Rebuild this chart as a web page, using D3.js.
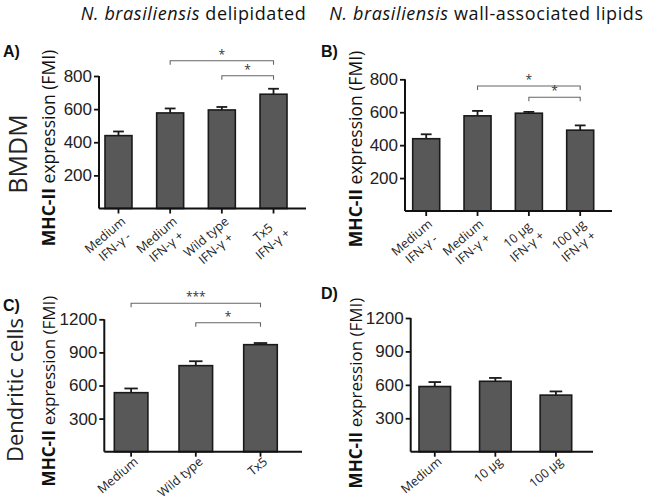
<!DOCTYPE html>
<html><head><meta charset="utf-8">
<script src="https://cdn.jsdelivr.net/npm/d3@7"></script>
<style>
body{margin:0;background:#fff;}
svg{display:block;font-family:"Open Sans",sans-serif;}
</style></head>
<body><svg id="c" width="646" height="500"></svg>
<script>
// ---- data ----
const catsA = [["Medium","IFN-γ -"],["Medium","IFN-γ +"],["Wild type","IFN-γ +"],["Tx5","IFN-γ +"]];
const valuesA = [440, 577, 595, 690];
const errA = [25, 27, 18, 33];
const catsB = [["Medium","IFN-γ -"],["Medium","IFN-γ +"],["10 μg","IFN-γ +"],["100 μg","IFN-γ +"]];
const valuesB = [439, 578, 594, 491];
const errB = [27, 30, 8, 29];
const catsC = [["Medium"],["Wild type"],["Tx5"]];
const valuesC = [535, 780, 970];
const errC = [38, 40, 15];
const catsD = [["Medium"],["10 μg"],["100 μg"]];
const valuesD = [585, 632, 508];
const errD = [40, 30, 33];
const ticksAB = [200, 400, 600, 800];
const ticksCD = [300, 600, 900, 1200];
const sigA = [[1, 3, "*"], [2, 3, "*"]];
const sigB = [[1, 3, "*"], [2, 3, "*"]];
const sigC = [[0, 2, "***"], [1, 2, "*"]];
const sigD = [];

const svg = d3.select("#c");
const ANG = -40, LFS = 12.5, LH = 15;

function panel(o){
  const g = svg.append("g");
  const y = d3.scaleLinear().domain([0, o.max]).range([o.y0, o.y1]);
  const x = d3.scaleBand().domain(o.cats.map((c,i)=>i)).range([o.ax, o.bx])
    .paddingInner(o.pi).paddingOuter(o.po);
  // bars
  g.selectAll("rect.bar").data(o.vals).enter().append("rect")
    .attr("x",(d,i)=>x(i)).attr("width",x.bandwidth())
    .attr("y",d=>y(d)).attr("height",d=>y(0)-y(d))
    .attr("fill","#585858").attr("stroke","#1a1a1a").attr("stroke-width",1.6);
  // error bars
  const eb = g.selectAll("g.eb").data(o.vals).enter().append("g");
  eb.append("line").attr("x1",(d,i)=>x(i)+x.bandwidth()/2).attr("x2",(d,i)=>x(i)+x.bandwidth()/2)
    .attr("y1",d=>y(d)).attr("y2",(d,i)=>y(d+o.err[i])).attr("stroke","#1a1a1a").attr("stroke-width",1.8);
  eb.append("line").attr("x1",(d,i)=>x(i)+x.bandwidth()*0.3).attr("x2",(d,i)=>x(i)+x.bandwidth()*0.7)
    .attr("y1",(d,i)=>y(d+o.err[i])).attr("y2",(d,i)=>y(d+o.err[i])).attr("stroke","#1a1a1a").attr("stroke-width",1.8);
  // y axis
  const ya = g.append("g").attr("transform",`translate(${o.ax},0)`)
    .call(d3.axisLeft(y).tickValues(o.ticks).tickFormat(d3.format("d")).tickSize(5).tickPadding(2).tickSizeOuter(0));
  ya.select(".domain").remove();
  g.append("line").attr("x1",o.ax).attr("x2",o.ax).attr("y1",y(0)).attr("y2",y(o.max))
    .attr("stroke","#111").attr("stroke-width",2);
  ya.selectAll(".tick line").attr("stroke","#111").attr("stroke-width",1.8);
  ya.selectAll(".tick text").attr("font-family","'Liberation Sans',Arial,sans-serif")
    .attr("font-size",17).attr("fill","#222");
  // x axis
  g.append("line").attr("x1",o.ax).attr("x2",o.axEnd).attr("y1",y(0)).attr("y2",y(0))
    .attr("stroke","#111").attr("stroke-width",2);
  const xa = g.append("g").attr("transform",`translate(0,${y(0)})`)
    .call(d3.axisBottom(x).tickSize(5).tickFormat(""));
  xa.select(".domain").remove();
  xa.selectAll(".tick line").attr("stroke","#111").attr("stroke-width",1.8);
  o.cats.forEach((c,i)=>{
    const cx = x(i)+x.bandwidth()/2;
    const t = g.append("text").attr("transform",`translate(${cx+o.lx},${y(0)+o.ly}) rotate(${ANG})`)
      .attr("text-anchor","middle").attr("font-size",LFS).attr("fill","#222");
    const spans = c.map((line,j)=> t.append("tspan").attr("y", j*LH).attr("dy","0.35em").text(line));
    const lens = spans.map(s=>s.node().getComputedTextLength());
    const maxL = d3.max(lens);
    spans.forEach(s=>s.attr("x", -maxL/2));
  });
  // y label
  const yl = g.append("text").attr("transform",`translate(${o.ylx},${o.yly}) rotate(-90)`)
    .attr("text-anchor","middle").attr("font-size",o.ylfs).attr("fill","#111");
  yl.append("tspan").attr("font-weight","bold").text("MHC-II");
  yl.append("tspan").text(" expression (FMI)");
  // significance brackets
  o.sig.forEach((s,k)=>{
    const x1 = x(s[0])+x.bandwidth()/2, x2 = x(s[1])+x.bandwidth()/2, by = o.sigY[k];
    g.append("path").attr("d",`M${x1},${by+4}V${by}H${x2}V${by+4}`)
      .attr("fill","none").attr("stroke","#666").attr("stroke-width",1.1);
    g.append("text").attr("x",(x1+x2)/2).attr("y",by-2).attr("text-anchor","middle")
      .attr("font-size",12).attr("fill","#333").text(s[2]);
  });
  // panel letter
  svg.append("text").attr("x",o.px).attr("y",o.py).attr("font-size",16).attr("font-weight","bold")
    .attr("font-family","'Liberation Sans',Arial,sans-serif").attr("fill","#111").text(o.letter);
}

panel({cats:catsA, vals:valuesA, err:errA, ticks:ticksAB, max:800, y0:208.5, y1:76,
  ax:99, bx:293, axEnd:306, pi:0.478, po:0.116, lx:5, ly:11, ylx:55, yly:148, ylfs:17.5,
  sig:sigA, sigY:[60.7,75.7], letter:"A)", px:3, py:57});
panel({cats:catsB, vals:valuesB, err:errB, ticks:ticksAB, max:800, y0:211, y1:79.3,
  ax:405, bx:601.4, axEnd:612, pi:0.474, po:0.15, lx:4, ly:11, ylx:362, yly:149, ylfs:17.5,
  sig:sigB, sigY:[86,97.3], letter:"B)", px:321, py:57});
panel({cats:catsC, vals:valuesC, err:errC, ticks:ticksCD, max:1200, y0:451.7, y1:319.3,
  ax:104.3, bx:287.3, axEnd:302, pi:0.481, po:0.155, lx:5, ly:8, ylx:55, yly:391, ylfs:17,
  sig:sigC, sigY:[303.3,322.7], letter:"C)", px:3, py:311});
panel({cats:catsD, vals:valuesD, err:errD, ticks:ticksCD, max:1200, y0:451.7, y1:318,
  ax:410.7, bx:580, axEnd:593, pi:0.479, po:0.137, lx:5, ly:8, ylx:362, yly:393, ylfs:17,
  sig:sigD, sigY:[], letter:"D)", px:321, py:299});

// row labels
svg.append("text").attr("transform","translate(27,154) rotate(-90)").attr("text-anchor","middle")
  .attr("font-size",25).attr("fill","#222").text("BMDM");
svg.append("text").attr("transform","translate(23,390) rotate(-90)").attr("text-anchor","middle")
  .attr("font-size",22).attr("fill","#222").text("Dendritic cells");

// column titles
const t1 = svg.append("text").attr("x",193.5).attr("y",19.5).attr("text-anchor","middle")
  .attr("font-size",18).attr("letter-spacing",0.6).attr("fill","#111");
t1.append("tspan").attr("font-style","italic").text("N. brasiliensis");
t1.append("tspan").text(" delipidated");
const t2 = svg.append("text").attr("x",486.5).attr("y",19.5).attr("text-anchor","middle")
  .attr("font-size",18).attr("letter-spacing",0.6).attr("fill","#111");
t2.append("tspan").attr("font-style","italic").text("N. brasiliensis");
t2.append("tspan").text(" wall-associated lipids");
</script></body></html>
